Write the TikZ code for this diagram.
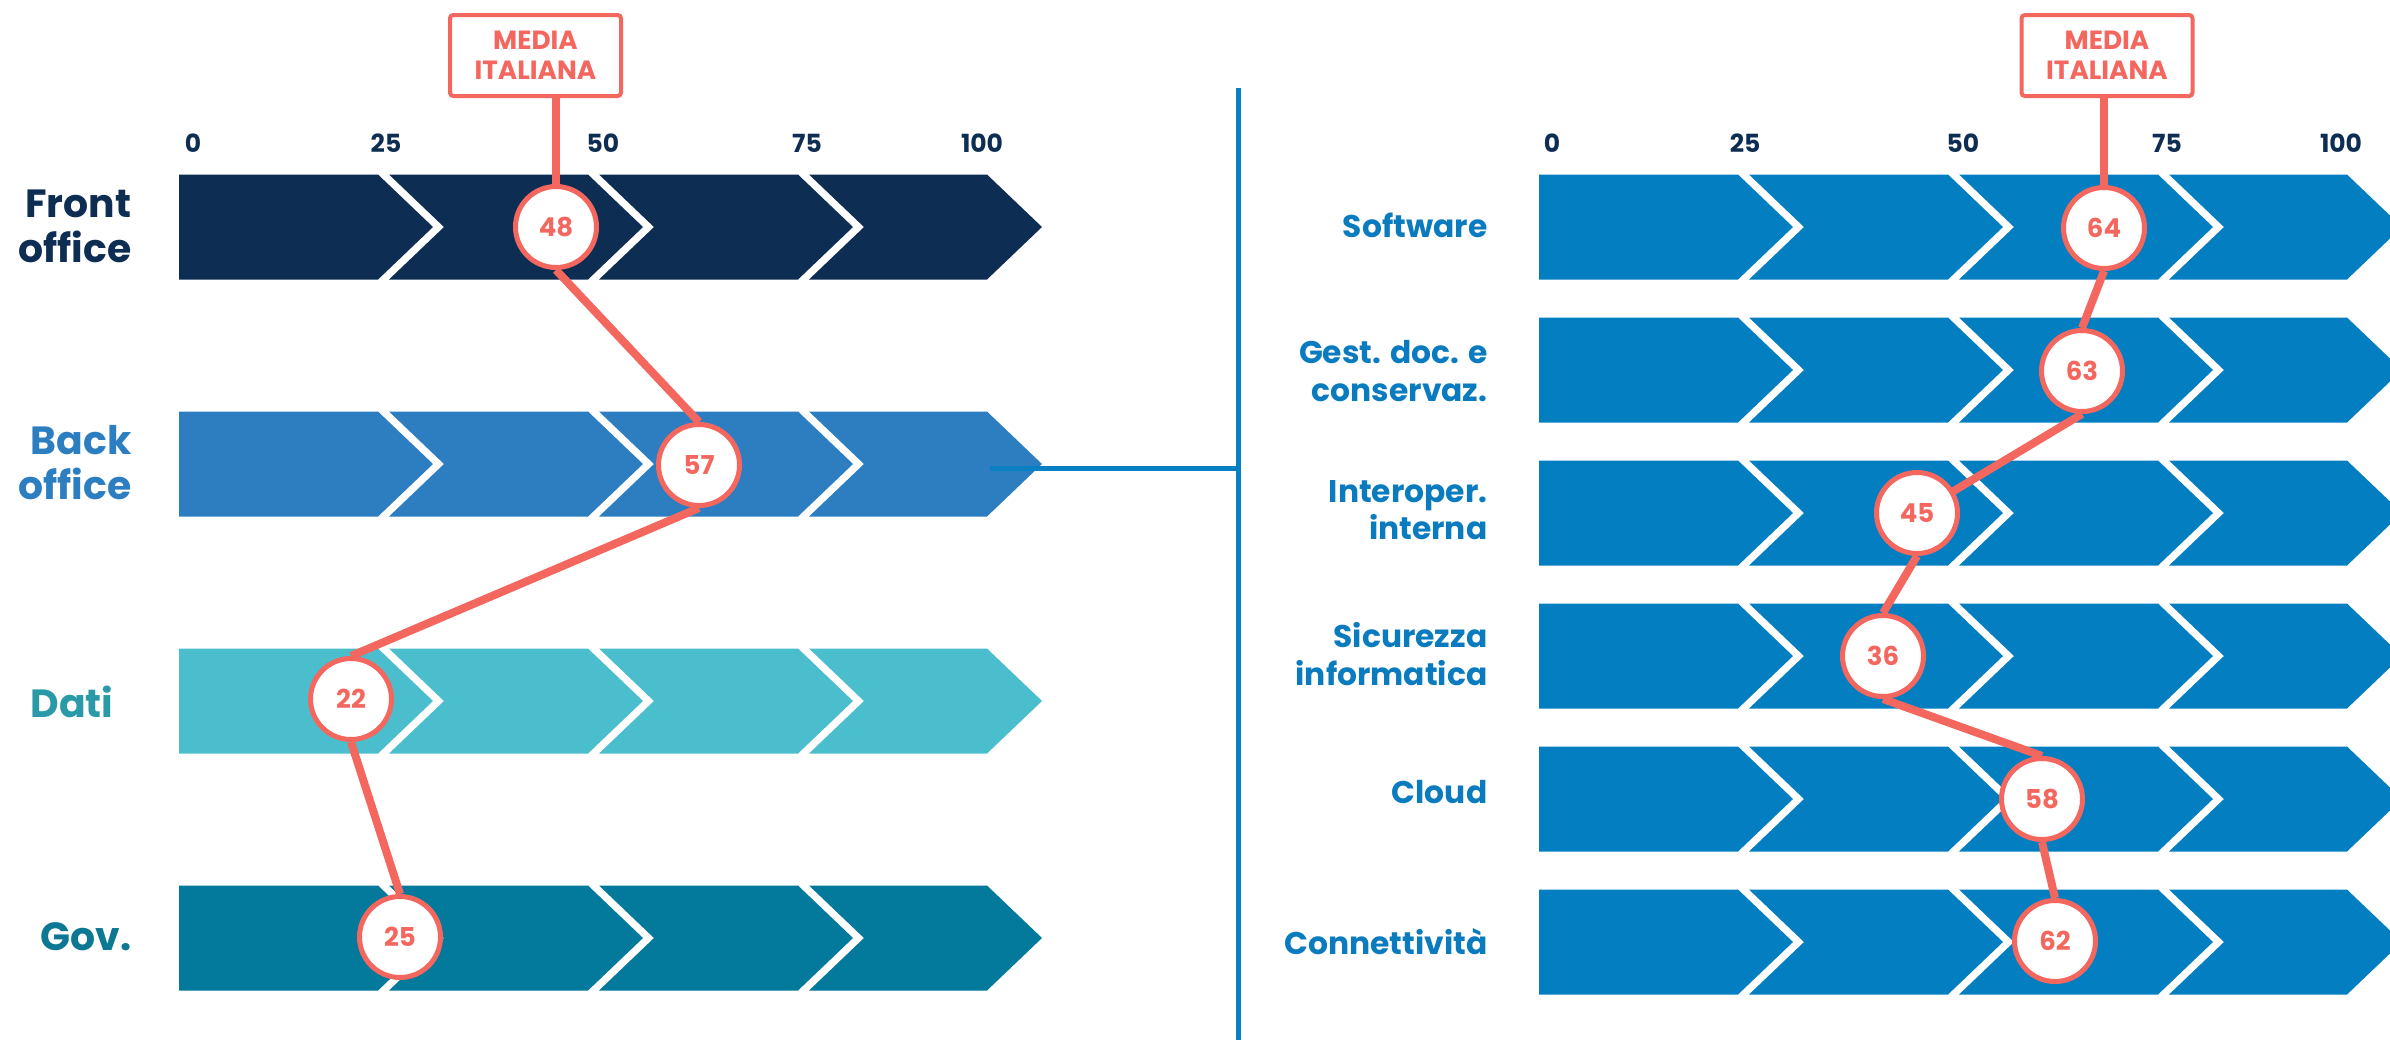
\documentclass[tikz,border=0pt]{standalone}
\usepackage{fontspec}
\setmainfont{Poppins}
\definecolor{cNavy}{HTML}{0E2D52}
\definecolor{cBack}{HTML}{2D7EC1}
\definecolor{cDati}{HTML}{4ABECC}
\definecolor{cDatiT}{HTML}{2B9AA8}
\definecolor{cGov}{HTML}{03799B}
\definecolor{cGovT}{HTML}{0D7893}
\definecolor{cRight}{HTML}{037EC1}
\definecolor{cRightT}{HTML}{0A7BBF}
\definecolor{cDiv}{HTML}{0A80C4}
\definecolor{coral}{HTML}{F4675F}
\pgfdeclarelayer{bg}
\pgfdeclarelayer{bars}
\pgfdeclarelayer{links}
\pgfsetlayers{bg,bars,links,main}
\newcommand{\chevrow}[3]{%
  \begin{pgfonlayer}{bars}
  \fill[#3] (#2,#1-52.5) -- (#2+199,#1-52.5) -- (#2+254,#1) -- (#2+199,#1+52.5) -- (#2,#1+52.5) -- cycle;
  \foreach \s/\e in {210/409,420/619,630/808}{
    \fill[#3] (#2+\s,#1-52.5) -- (#2+\e,#1-52.5) -- (#2+\e+55,#1) -- (#2+\e,#1+52.5) -- (#2+\s,#1+52.5) -- (#2+\s+55,#1) -- cycle;
  }
  \end{pgfonlayer}}
\begin{document}
\begin{tikzpicture}[x=0.3pt,y=-0.3pt,
  val/.style={circle, draw=coral, line width=1.5pt, fill=white, minimum size=24.3pt, inner sep=0pt,
    font=\bfseries\fontsize{7.8}{9}\selectfont, text=coral},
  link/.style={draw=coral, line width=2.4pt},
  media/.style={draw=coral, line width=1.2pt, fill=white, rounded corners=1pt, minimum width=51.3pt,
    minimum height=24.3pt, inner sep=0pt, align=center, font=\bfseries\fontsize{7.9}{8.9}\selectfont, text=coral},
  tick/.style={font=\bfseries\fontsize{7.5}{9}\selectfont, text=cNavy},
  llab/.style={font=\bfseries\fontsize{11.8}{13.5}\selectfont, align=right, inner sep=0pt},
  rlab/.style={font=\bfseries\fontsize{9.4}{11.2}\selectfont, align=right, inner sep=0pt, anchor=east, text=cRightT},
  divider/.style={draw=cDiv, line width=1.5pt}]
\useasboundingbox (0,0) rectangle (2390,1040);
\begin{pgfonlayer}{bg}
\fill[white] (0,0) rectangle (2390,1040);
\end{pgfonlayer}

% ---------- left panel ----------
\chevrow{227}{179}{cNavy}
\chevrow{464}{179}{cBack}
\chevrow{701}{179}{cDati}
\chevrow{938}{179}{cGov}

\node[tick] (lt0) at (193,143) {0};
\node[tick] (lt25) at (386,143) {25};
\node[tick] (lt50) at (603,143) {50};
\node[tick] (lt75) at (807,143) {75};
\node[tick] (lt100) at (982,143) {100};

\node[llab, anchor=east, text=cNavy] (lfront) at (132,226) {Front\\office};
\node[llab, anchor=east, text=cBack] (lback) at (132,463) {Back\\office};
\node[llab, text=cDatiT] (ldati) at (72,702) {Dati};
\node[llab, text=cGovT] (lgov) at (86,937) {Gov.};

\node[media] (m1) at (535.5,55.5) {MEDIA\\ITALIANA};
\node[val] (c48) at (556,227) {48};
\node[val] (c57) at (699,465) {57};
\node[val] (c22) at (351,699) {22};
\node[val] (c25) at (400,937) {25};

\begin{pgfonlayer}{links}
\draw[link] (m1.south -| c48.center) -- (c48.north);
\draw[link] (c48.south) -- (c57.north);
\draw[link] (c57.south) -- (c22.north);
\draw[link] (c22.south) -- (c25.north);
\end{pgfonlayer}

% ---------- divider ----------
\coordinate (dtop) at (1238,88);
\coordinate (dbot) at (1238,1040);
\coordinate (dh) at (990,468);
\draw[divider] (dtop) -- (dbot);
\draw[divider] (dh) -- (dh -| dtop);

% ---------- right panel ----------
\chevrow{227}{1539}{cRight}
\chevrow{370}{1539}{cRight}
\chevrow{513}{1539}{cRight}
\chevrow{656}{1539}{cRight}
\chevrow{799}{1539}{cRight}
\chevrow{942}{1539}{cRight}

\node[tick] (rt0) at (1552,143) {0};
\node[tick] (rt25) at (1745,143) {25};
\node[tick] (rt50) at (1963,143) {50};
\node[tick] (rt75) at (2167,143) {75};
\node[tick] (rt100) at (2341,143) {100};

\node[rlab] (rsw) at (1488,225) {Software};
\node[rlab] (rgd) at (1488,371) {Gest. doc. e\\conservaz.};
\node[rlab] (rio) at (1488,510) {Interoper.\\interna};
\node[rlab] (rsi) at (1488,654) {Sicurezza\\informatica};
\node[rlab] (rcl) at (1488,792) {Cloud};
\node[rlab] (rco) at (1488,942) {Connettività};

\node[media] (m2) at (2107,55.5) {MEDIA\\ITALIANA};
\node[val] (c64) at (2104,228) {64};
\node[val] (c63) at (2082,371) {63};
\node[val] (c45) at (1917,513) {45};
\node[val] (c36) at (1883,656) {36};
\node[val] (c58) at (2042,799) {58};
\node[val] (c62) at (2055,941) {62};

\begin{pgfonlayer}{links}
\draw[link] (m2.south -| c64.center) -- (c64.north);
\draw[link] (c64.south) -- (c63.north);
\draw[link] (c63.south) -- (c45.center);
\draw[link] (c45.south) -- (c36.north);
\draw[link] (c36.south) -- (c58.north);
\draw[link] (c58.south) -- (c62.north);
\end{pgfonlayer}
\end{tikzpicture}
\end{document}
